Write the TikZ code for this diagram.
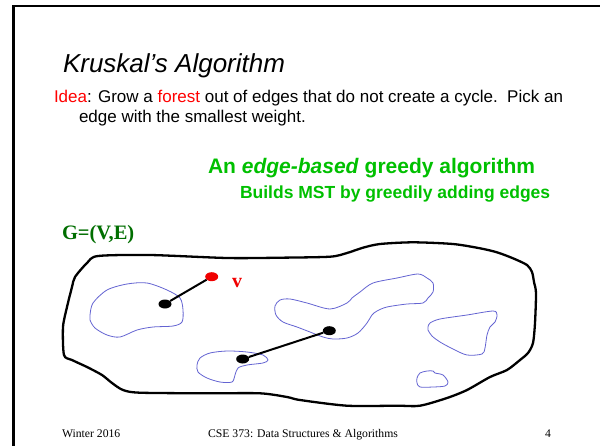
\documentclass[tikz,border=0pt]{standalone}
\usepackage{fontspec}
\setmainfont{Liberation Sans}
\newfontfamily\serifft{Liberation Serif}
\usetikzlibrary{shapes.geometric}
\definecolor{brightgreen}{RGB}{0,192,0}
\definecolor{darkgreen}{RGB}{0,110,0}
\definecolor{blobblue}{RGB}{100,100,210}
\definecolor{redv}{RGB}{240,0,0}
\tikzset{
  txt/.style={anchor=base west, inner sep=0pt, outer sep=0pt},
  outline/.style={draw=black, line width=2.3pt, line join=round},
  blob/.style={draw=blobblue, line width=0.8pt, line join=round},
  vertex/.style={ellipse, fill=black, minimum width=13pt, minimum height=9pt, inner sep=0pt},
  redvertex/.style={vertex, fill=redv},
  edgeline/.style={draw=black, line width=2pt},
  frameline/.style={draw=black, line width=2.8pt}
}
\begin{document}
\begin{tikzpicture}[x=1pt,y=-1pt]
\useasboundingbox (0,0) rectangle (600,445);
\fill[white] (0,0) rectangle (600,445);
% slide frame
\coordinate (fbl) at (13.5,446);
\coordinate (ftl) at (13.5,6);
\coordinate (ftr) at (601,6);
\draw[frameline] (fbl) -- (ftl) -- (ftr);
% texts
\node[txt] (title) at (63,72) {\fontsize{26}{30}\selectfont\itshape Kruskal’s Algorithm};
\node[txt] (idea1) at (54,102) {\fontsize{17}{20}\selectfont\textcolor{red}{Idea}: Grow a \textcolor{red}{forest} out of edges that do not create a cycle.\ \ Pick an};
\node[txt] (idea2) at (79,122) {\fontsize{17}{20}\selectfont edge with the smallest weight.};
\node[txt, text=brightgreen] (greedy) at (208,173) {\fontsize{21}{24}\selectfont\bfseries An \textit{edge-based} greedy algorithm};
\node[txt, text=brightgreen] (builds) at (240,198.5) {\fontsize{17.5}{20}\selectfont\bfseries Builds MST by greedily adding edges};
\node[txt, text=darkgreen] (gve) at (62,239) {\serifft\fontsize{20.5}{24}\selectfont\bfseries G=(V,E)};
% outline of the graph
\draw[outline] plot[smooth cycle, tension=0.45] coordinates {
 (98,256) (150,255) (227,258) (280,257.7) (330,256.7) (347,253) (363,247.7) (380,244)
 (413,242.3) (453,244) (480,248.3) (497,252.3) (513,258.3) (527,265) (532,272) (534,282)
 (536,293) (535,323) (533,343) (528,353) (520,360) (507,370) (490,377) (467,390) (447,398)
 (420,405.7) (397,405.7) (347,405.7) (300,400) (287,397) (260,393.3) (207,393.3) (140,392.7)
 (123,390) (112,383) (102,375) (87,367) (72,360) (64,355) (63,327) (67,307) (72,287) (75,277) (87,263)};
% blue components
\draw[blob] plot[smooth cycle, tension=0.5] coordinates {
 (90,315) (93,303) (107,290) (127,284) (147,283) (167,290) (180,298) (183,310) (182,322)
 (173,326) (153,327) (137,330) (120,337) (107,335) (95,328) (90,320)};
\draw[blob] plot[smooth cycle, tension=0.5] coordinates {
 (197,365) (200,358) (210,353) (227,351) (247,352) (263,355) (268,360) (263,363) (247,365)
 (238,368) (235,375) (232,382) (220,382) (207,378) (198,372)};
\draw[blob] plot[smooth cycle, tension=0.5] coordinates {
 (280,300) (290,299) (307,303) (330,309) (347,303) (352,298) (360,292) (373,283) (397,278)
 (418,274) (427,278) (433,283) (433,292) (428,298) (423,303) (407,304) (387,307) (377,311)
 (372,315) (367,323) (358,333) (347,338) (333,339) (323,337) (310,332) (297,327) (283,322)
 (276,315) (275,306)};
\draw[blob] plot[smooth cycle, tension=0.5] coordinates {
 (428,327) (430,323) (440,319) (467,315) (493,311) (497,315) (495,322) (490,327) (487,335)
 (485,348) (482,354) (467,355) (453,349) (440,342) (432,336) (428,330)};
\draw[blob] plot[smooth cycle, tension=0.5] coordinates {
 (417,378) (420,373) (427,371) (433,371) (435,373) (443,375) (448,382) (445,386) (433,387)
 (420,387) (417,383)};
% vertices and edges
\node[redvertex] (v) at (211.7,276.7) {};
\node[vertex] (a) at (165,304) {};
\node[vertex] (b) at (329.3,330.7) {};
\node[vertex] (c) at (242.7,359) {};
\draw[edgeline] (a) -- (v);
\draw[edgeline] (c) -- (b);
\node[txt, text=redv] (vlabel) at (232,287) {\serifft\fontsize{20}{24}\selectfont\bfseries v};
% footer
\node[txt] (foot1) at (62,437) {\serifft\fontsize{11.7}{14}\selectfont Winter 2016};
\node[anchor=base, inner sep=0pt] (foot2) at (303,437) {\serifft\fontsize{11.7}{14}\selectfont CSE 373: Data Structures \& Algorithms};
\node[txt] (foot3) at (545,437) {\serifft\fontsize{11.7}{14}\selectfont 4};
\end{tikzpicture}
\end{document}
